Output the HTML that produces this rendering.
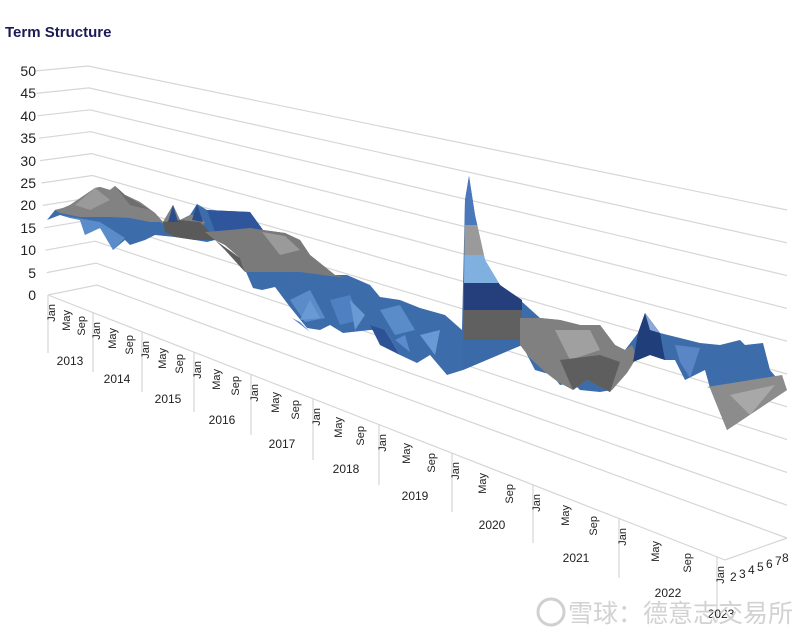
<!DOCTYPE html>
<html><head><meta charset="utf-8"><style>
html,body{margin:0;padding:0;background:#fff}
svg{display:block}
text{font-family:"Liberation Sans","Noto Sans CJK SC",sans-serif}
</style></head><body>
<svg width="800" height="644" viewBox="0 0 800 644" xmlns="http://www.w3.org/2000/svg">
<text x="5" y="37" font-size="15" font-weight="bold" fill="#1b1a55">Term Structure</text>
<g stroke="#d6d6d6" stroke-width="1.2" fill="none">
<polyline points="48,295 97,285 787,538"/>
<polyline points="46.7,272.6 96.1,263.1 787,505.2"/>
<polyline points="45.4,250.2 95.2,241.2 787,472.4"/>
<polyline points="44.1,227.8 94.3,219.3 787,439.6"/>
<polyline points="42.8,205.4 93.4,197.4 787,406.8"/>
<polyline points="41.5,183 92.5,175.5 787,374"/>
<polyline points="40.2,160.6 91.6,153.6 787,341.2"/>
<polyline points="38.9,138.2 90.7,131.7 787,308.4"/>
<polyline points="37.6,115.8 89.8,109.8 787,275.6"/>
<polyline points="36.3,93.4 88.9,87.9 787,242.8"/>
<polyline points="35,71 88,66 787,210"/>
<polyline points="48,295 725,560 787,538"/>
<line x1="48" y1="295" x2="48" y2="353"/>
<line x1="93" y1="313" x2="93" y2="372"/>
<line x1="142" y1="332" x2="142" y2="392"/>
<line x1="194" y1="352" x2="194" y2="412"/>
<line x1="251" y1="374" x2="251" y2="435"/>
<line x1="313" y1="399" x2="313" y2="460"/>
<line x1="379" y1="425" x2="379" y2="485"/>
<line x1="452" y1="453" x2="452" y2="512"/>
<line x1="533" y1="485" x2="533" y2="543"/>
<line x1="619" y1="518" x2="619" y2="578"/>
<line x1="717" y1="557" x2="717" y2="622"/>
</g>
<g font-size="14" fill="#222" text-anchor="end">
<text x="36" y="300">0</text><text x="36" y="278">5</text><text x="36" y="255">10</text>
<text x="36" y="233">15</text><text x="36" y="210">20</text><text x="36" y="188">25</text>
<text x="36" y="166">30</text><text x="36" y="143">35</text><text x="36" y="121">40</text>
<text x="36" y="98">45</text><text x="36" y="76">50</text>
</g>
<g font-size="11" fill="#222" text-anchor="end">
<text transform="translate(55,304) rotate(-90)">Jan</text>
<text transform="translate(70,310) rotate(-90)">May</text>
<text transform="translate(85,316) rotate(-90)">Sep</text>
<text transform="translate(100,322) rotate(-90)">Jan</text>
<text transform="translate(116,328) rotate(-90)">May</text>
<text transform="translate(133,335) rotate(-90)">Sep</text>
<text transform="translate(149,341) rotate(-90)">Jan</text>
<text transform="translate(166,348) rotate(-90)">May</text>
<text transform="translate(183,354) rotate(-90)">Sep</text>
<text transform="translate(201,361) rotate(-90)">Jan</text>
<text transform="translate(220,369) rotate(-90)">May</text>
<text transform="translate(239,376) rotate(-90)">Sep</text>
<text transform="translate(258,384) rotate(-90)">Jan</text>
<text transform="translate(279,392) rotate(-90)">May</text>
<text transform="translate(299,400) rotate(-90)">Sep</text>
<text transform="translate(320,408) rotate(-90)">Jan</text>
<text transform="translate(342,417) rotate(-90)">May</text>
<text transform="translate(364,426) rotate(-90)">Sep</text>
<text transform="translate(386,434) rotate(-90)">Jan</text>
<text transform="translate(410,443) rotate(-90)">May</text>
<text transform="translate(435,453) rotate(-90)">Sep</text>
<text transform="translate(459,462) rotate(-90)">Jan</text>
<text transform="translate(486,473) rotate(-90)">May</text>
<text transform="translate(513,484) rotate(-90)">Sep</text>
<text transform="translate(540,494) rotate(-90)">Jan</text>
<text transform="translate(569,505) rotate(-90)">May</text>
<text transform="translate(597,516) rotate(-90)">Sep</text>
<text transform="translate(626,528) rotate(-90)">Jan</text>
<text transform="translate(659,541) rotate(-90)">May</text>
<text transform="translate(691,553) rotate(-90)">Sep</text>
<text transform="translate(724,566) rotate(-90)">Jan</text>
</g>
<g font-size="12" fill="#222" text-anchor="middle">
<text x="70" y="365">2013</text><text x="117" y="383">2014</text><text x="168" y="403">2015</text>
<text x="222" y="424">2016</text><text x="282" y="448">2017</text><text x="346" y="473">2018</text>
<text x="415" y="500">2019</text><text x="492" y="529">2020</text><text x="576" y="562">2021</text>
<text x="668" y="597">2022</text><text x="721" y="618">2023</text>
</g>
<g font-size="12" fill="#222">
<text x="730" y="581">2</text><text x="739" y="578">3</text><text x="748" y="574">4</text>
<text x="757" y="571">5</text><text x="766" y="568">6</text><text x="775" y="565">7</text><text x="782" y="562">8</text>
</g>
<polygon fill="#3d6cab" points="47,220 55,210 63,208 70,205 95,188 100,187 110,190 115,186 125,195 140,202 155,213 163,222 173,205 180,220 190,215 197,204 207,210 250,212 263,230 285,233 300,240 310,255 335,275 347,275 370,285 380,297 400,300 420,308 445,315 462,330 465,200 469,176 475,215 485,260 500,285 520,300 540,318 560,320 580,325 600,325 615,345 625,350 638,333 645,313 660,333 680,338 700,343 720,345 740,340 745,345 763,343 770,370 787,390 727,430 710,388 705,370 685,380 675,360 665,360 650,355 633,362 625,375 612,390 600,392 580,390 573,383 560,385 552,375 535,370 522,345 463,370 447,375 430,355 417,363 400,355 385,330 370,330 343,333 330,325 320,330 307,328 290,307 275,287 262,290 253,288 240,258 225,245 215,240 207,242 195,240 175,237 155,235 145,240 130,245 125,240 113,250 105,230 90,225 85,235 80,220 70,218 60,215"/>
<polygon fill="#2f569c" points="207,210 250,212 263,230 240,230 215,232"/>
<polygon fill="#5a8cca" points="290,300 310,290 325,318 305,322"/>
<polygon fill="#6a9ad6" points="300,320 310,300 320,318"/>
<polygon fill="#4f80c2" points="330,300 350,295 360,320 340,325"/>
<polygon fill="#6a9ad6" points="350,300 365,315 355,330"/>
<polygon fill="#5a8cca" points="380,310 400,305 415,330 395,335"/>
<polygon fill="#6a9ad6" points="420,335 440,330 435,355"/>
<polygon fill="#5a8bcc" points="395,340 405,335 410,352"/>
<polygon fill="#2e5296" points="370,325 385,330 400,355 380,345"/>
<polygon fill="#5c86d8" points="300,322 310,332 292,318"/>
<polygon fill="#5a8cca" points="60,215 80,220 85,235 100,228 113,250 125,238 100,222"/>
<polygon fill="#828282" points="55,210 63,208 70,205 95,188 100,187 110,190 115,186 125,195 140,202 155,213 163,222 173,205 180,220 190,215 197,215 205,222 200,230 180,232 160,222 150,222 130,218 110,217 80,217 70,215 60,213"/>
<polygon fill="#9a9a9a" points="95,188 110,200 90,210 75,205"/>
<polygon fill="#6e6e6e" points="115,186 130,205 150,210 125,195"/>
<polygon fill="#5a5a5a" points="163,222 180,220 200,222 210,232 215,240 195,240 175,237 165,232"/>
<polygon fill="#2b4d8c" points="168,222 173,205 178,222"/>
<polygon fill="#2b4d8c" points="192,220 197,204 203,222"/>
<polygon fill="#7a7a7a" points="205,232 230,230 250,228 263,230 285,233 300,240 310,255 335,275 347,278 330,276 300,272 280,272 245,272 240,258 225,245 215,240"/>
<polygon fill="#9a9a9a" points="262,232 285,236 300,250 280,255"/>
<polygon fill="#5e5e5e" points="215,240 240,258 245,272 225,250"/>
<defs><clipPath id="sp"><polygon points="463,370 465,200 469,176 475,215 485,260 500,285 522,300 522,345"/></clipPath></defs>
<g clip-path="url(#sp)">
<rect x="455" y="170" width="70" height="55" fill="#4a78bb"/>
<rect x="455" y="225" width="70" height="30" fill="#9a9a9a"/>
<rect x="455" y="255" width="70" height="28" fill="#7fb0e0"/>
<rect x="455" y="283" width="70" height="27" fill="#243f7c"/>
<rect x="455" y="310" width="70" height="30" fill="#606060"/>
<rect x="455" y="340" width="70" height="40" fill="#3b6aa8"/>
</g>
<polygon fill="#808080" points="520,318 540,318 560,320 580,325 600,325 615,345 625,350 632,345 637,357 627,373 610,392 587,380 573,390 558,382 545,372 530,358 520,345"/>
<polygon fill="#a0a0a0" points="555,330 590,330 600,350 570,360"/>
<polygon fill="#5e5e5e" points="560,360 600,355 620,362 610,392 587,380 573,390"/>
<polygon fill="#203f7a" points="633,362 638,333 645,313 660,333 665,360 650,355"/>
<polygon fill="#8aa8d8" points="645,313 650,330 660,333"/>
<polygon fill="#5a86c6" points="675,345 700,348 690,378 680,362"/>
<polygon fill="#8c8c8c" points="707,387 782,375 787,390 727,430 710,388"/>
<polygon fill="#a8a8a8" points="730,395 775,385 750,415"/>
<circle cx="551" cy="612" r="13" fill="none" stroke="#d0d0d0" stroke-width="3"/>
<text x="568" y="622" font-size="25" fill="#d2d2d2">雪球：德意志交易所</text>
</svg>
</body></html>
